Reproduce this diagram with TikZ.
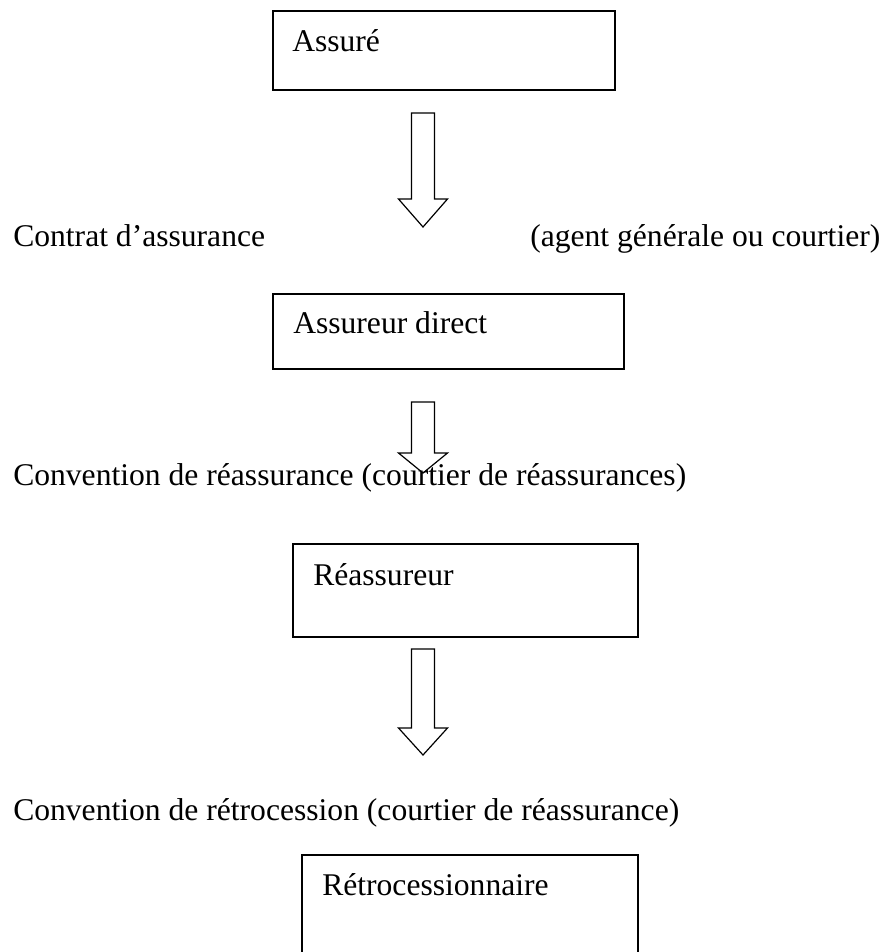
\documentclass[tikz,border=0pt]{standalone}
\usepackage{fontspec}
\setmainfont{Liberation Serif}
\usetikzlibrary{calc}

\tikzset{
  box/.style={draw, line width=1.3pt, inner sep=0pt, anchor=north west},
  lbl/.style={anchor=base west, inner sep=0pt, font=\fontsize{23.7pt}{28pt}\selectfont},
  blockarrow/.style={draw, line width=0.9pt, line join=miter}
}

\begin{document}
\begin{tikzpicture}[x=0.75pt, y=-0.75pt]
  \path[use as bounding box, clip] (0,0) rectangle (882,952);

  % the four parties, one box each
  \node[box, minimum width=342*0.75pt, minimum height=79*0.75pt] (assure) at (272,10) {};
  \node[box, minimum width=351*0.75pt, minimum height=75*0.75pt] (assureur) at (272,293) {};
  \node[box, minimum width=345*0.75pt, minimum height=93*0.75pt] (reassureur) at (292,543) {};
  \node[box, minimum width=336*0.75pt, minimum height=130*0.75pt] (retro) at (301,854) {};

  % names in the upper left corner of each box
  \node[lbl] (assuretxt) at ($(assure.north west)+(20,42)$) {Assuré};
  \node[lbl] (assureurtxt) at ($(assureur.north west)+(21,40)$) {Assureur direct};
  \node[lbl] (reassureurtxt) at ($(reassureur.north west)+(21,42)$) {Réassureur};
  \node[lbl] (retrotxt) at ($(retro.north west)+(21,41)$) {Rétrocessionnaire};

  % contracts between the parties
  \node[lbl] (contrat) at (13,247) {Contrat d’assurance};
  \node[lbl] (agent) at (530,247) {(agent générale ou courtier)};
  \node[lbl] (convreass) at (13,485) {Convention de réassurance (courtier de réassurances)};
  \node[lbl] (convretro) at (13,820) {Convention de rétrocession (courtier de réassurance)};

  % block arrows going down
  \coordinate (top1) at (423,113);
  \coordinate (tip1) at (423,227);
  \coordinate (top2) at (423,402);
  \coordinate (tip2) at (423,473);
  \coordinate (top3) at (423,649);
  \coordinate (tip3) at (423,755);

  \foreach \i/\h in {1/28, 2/20, 3/27}
  \draw[blockarrow] ($(top\i)+(-11.5,0)$) -- ($(top\i)+(11.5,0)$)
    -- ($(tip\i)+(11.5,-\h)$) -- ($(tip\i)+(24.5,-\h)$) -- (tip\i)
    -- ($(tip\i)+(-24.5,-\h)$) -- ($(tip\i)+(-11.5,-\h)$) -- cycle;

\end{tikzpicture}
\end{document}
